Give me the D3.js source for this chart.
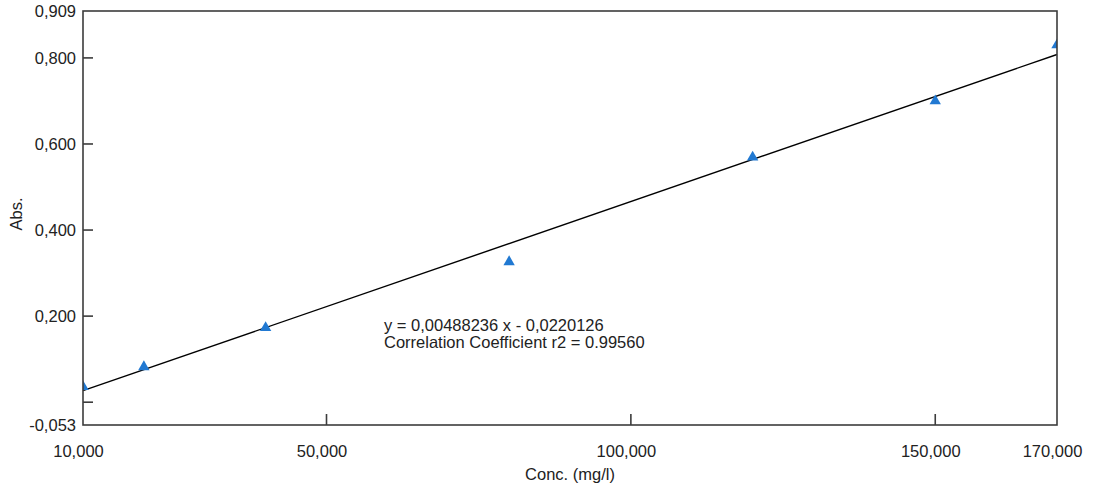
<!DOCTYPE html>
<meta charset="utf-8">
<style>
    body { margin: 0; background: #fff; }
    text { font-family: 'Liberation Sans', Arial, sans-serif; font-size: 16.5px; fill: #222; }
</style>
<body>
<svg width="1101" height="493" id="chart"></svg>
<script src="https://d3js.org/d3.v7.min.js"></script>
<script>

    // measured standards (Conc. mg/l) and absorbance
    var conc = [10, 20, 40, 80, 120, 150, 170];
    var absorb = [0.036, 0.082, 0.173, 0.326, 0.569, 0.700, 0.830];

    // regression shown on the chart
    var slope = 0.00488236, intercept = -0.0220126;
    var eqLines = ["y = 0,00488236 x - 0,0220126", "Correlation Coefficient r2 = 0.99560"];

    var xTicks = [10, 50, 100, 150, 170];
    var yTicks = [-0.053, 0, 0.2, 0.4, 0.6, 0.8, 0.909];
    var yNoLabel = [0];

    var svg = d3.select("svg"),
        margin = {top: 11, right: 44, bottom: 68, left: 83},
        width = +svg.attr("width") - margin.left - margin.right,
        height = +svg.attr("height") - margin.top - margin.bottom,
        g = svg.append("g").attr("transform", "translate(" + margin.left + "," + margin.top + ")");

    var x = d3.scaleLinear().domain([10, 170]).range([0, width]);
    var y = d3.scaleLinear().domain([-0.053, 0.909]).range([height, 0]);

    var fmt = d3.formatLocale({decimal: ",", thousands: ".", grouping: [3], currency: ["", ""], minus: "-"}).format(".3f");

    svg.append("clipPath").attr("id", "plot")
        .append("rect").attr("width", width).attr("height", height);

    // fit line
    g.append("line")
        .attr("x1", x(10)).attr("y1", y(slope * 10 + intercept))
        .attr("x2", x(170)).attr("y2", y(slope * 170 + intercept))
        .attr("stroke", "#000")
        .attr("stroke-width", 1.4);

    // points
    g.append("g")
        .attr("clip-path", "url(#plot)")
        .selectAll("path")
        .data(conc)
        .enter().append("path")
        .attr("d", d3.symbol().type(d3.symbolTriangle).size(56))
        .attr("transform", function(d, i) { return "translate(" + x(d) + "," + y(absorb[i]) + ")"; })
        .attr("fill", "#2179d2");

    // frame
    g.append("rect")
        .attr("width", width).attr("height", height)
        .attr("fill", "none")
        .attr("stroke", "#3c3c3c")
        .attr("stroke-width", 1.6);

    // y ticks (inner)
    g.append("g").selectAll("line")
        .data(yTicks.slice(1, -1))
        .enter().append("line")
        .attr("x1", 0).attr("x2", 10)
        .attr("y1", function(d) { return y(d); }).attr("y2", function(d) { return y(d); })
        .attr("stroke", "#3c3c3c").attr("stroke-width", 1.6);

    g.append("g").selectAll("text")
        .data(yTicks.filter(function(d) { return yNoLabel.indexOf(d) < 0; }))
        .enter().append("text")
        .attr("x", -7)
        .attr("y", function(d) { return y(d); })
        .attr("dy", "0.36em")
        .attr("text-anchor", "end")
        .text(fmt);

    // x ticks (inner)
    g.append("g").selectAll("line")
        .data(xTicks.slice(1, -1))
        .enter().append("line")
        .attr("x1", function(d) { return x(d); }).attr("x2", function(d) { return x(d); })
        .attr("y1", height).attr("y2", height - 11)
        .attr("stroke", "#3c3c3c").attr("stroke-width", 1.6);

    g.append("g").selectAll("text")
        .data(xTicks)
        .enter().append("text")
        .attr("x", function(d) { return x(d) - 4.5; })
        .attr("y", height + 32)
        .attr("text-anchor", "middle")
        .text(fmt);

    // axis titles
    g.append("text")
        .attr("x", width / 2)
        .attr("y", height + 55)
        .attr("text-anchor", "middle")
        .text("Conc. (mg/l)");

    g.append("text")
        .attr("transform", "translate(" + (22 - margin.left) + "," + (214 - margin.top) + ") rotate(-90)")
        .attr("text-anchor", "middle")
        .text("Abs.");

    // equation
    g.append("g").selectAll("text")
        .data(eqLines)
        .enter().append("text")
        .attr("x", 384 - margin.left)
        .attr("y", function(d, i) { return 331 - margin.top + i * 17; })
        .text(function(d) { return d; });

</script>
</body>
